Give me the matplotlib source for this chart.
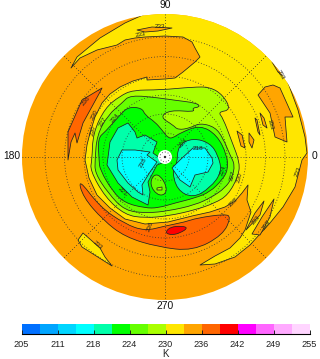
import matplotlib
matplotlib.use("Agg")
import matplotlib.pyplot as plt
from matplotlib.colors import ListedColormap, BoundaryNorm
from matplotlib.patches import Circle, Polygon, PathPatch
from matplotlib.path import Path
from matplotlib.cm import ScalarMappable

plt.rcParams['font.family'] = ['Liberation Sans', 'DejaVu Sans']

# colour levels (K)
levels = [205 + 3.125 * i for i in range(17)]
level_colors = ['#0070FF', '#00A5FF', '#00D5FF', '#00FFFF', '#00FFAA', '#00FF00', '#66FF00', '#AAFF00',
                '#FFE600', '#FFA500', '#FF6600', '#FF0000', '#FF00FF', '#FF66FF', '#FFAAFF', '#FFD5FF']
cbar_ticks = [205, 211.25, 217.5, 223.75, 230, 236.25, 242.5, 248.75, 255]
cbar_labels = ['205', '211', '218', '224', '230', '236', '242', '249', '255']

# map geometry in map units
center = (165, 157)
radius = 143
lat_circles = [120, 100.5, 81, 62, 43, 24]
meridian_ends = [(-1, -1), (1, -1), (-1, 1), (1, 1)]

# isotherm regions
yellow_main = [(71,68),(77,57),(100,38),(125,23),(145,14),(145,5),(200,5),(280,40),(270,58),(287,80),(298,110),
    (305,137),(307,153),(302,160),(295,187),(283,207),(270,223),(250,245),(235,257),(215,264),(200,265),(215,256),
    (230,248),(240,238),(245,230),(251,212),(247,200),(248,185),(242,193),(235,201),(225,207),(210,212),
    (192,216),(168,222),(145,224),(125,219),(110,208),(97,195),(89,178),(85,160),(87,145),(90,133),(95,117),
    (102,103),(110,94),(120,87),(133,81),(147,77),(147,80),(165,79),(175,78),(183,72),(195,62),(200,57),(195,48),
    (192,42),(183,37),(165,36),(145,37),(135,38),(125,40),(117,45),(97,50),(80,58)]
orange_sliver_top = [(137,30),(152,27),(172,28),(158,31),(145,32)]
orange_right = [(265,87),(258,95),(270,113),(275,137),(287,142),(285,117),(293,117),(280,88),(273,85)]
orange_small = [[(237,131),(242,135),(245,148),(241,146)], [(249,133),(254,140),(252,148),(249,142)],
    [(255,118),(257,120),(260,135),(258,132)], [(260,113),(264,118),(267,128),(263,125)],
    [(272,62),(280,70),(285,78),(278,72)]]
sliver_a = [(264,201),(260,215),(246,230),(255,213)]
sliver_b = [(274,199),(270,217),(260,235),(252,234),(262,217)]
yellow_lower_left = [(83,233),(78,240),(82,247),(112,266),(105,257),(100,248)]
redorange_left = [(102,88),(82,100),(68,132),(68,160),(71,142),(75,133),(77,143),(83,123),(100,92)]
redorange_low = [(78,178),(100,207),(125,224),(145,231),(165,226),(185,222),(197,218),(225,214),(231,217),(223,235),
    (193,251),(158,247),(125,237),(103,220),(83,197)]
red_blob = [(165,233),(170,227),(182,226),(188,228),(180,233),(172,235)]
lime_main = [(92,160),(93,133),(105,108),(120,96),(133,90),(160,90),(193,87),(210,87),(223,95),(231,110),
    (218,112),(223,118),(232,142),(240,163),(238,177),(228,195),(215,203),(195,210),(168,216),(145,218),
    (125,215),(105,197),(90,170)]
g66_main = [(95,160),(97,135),(108,115),(122,103),(130,95),(160,98),(173,100),(197,103),(200,107),(192,108),
    (195,112),(170,110),(160,117),(173,125),(178,130),(190,128),(200,123),(215,127),(223,138),(230,155),
    (235,165),(232,178),(225,188),(212,197),(195,205),(168,211),(148,213),(125,211),(108,193),(95,173)]
green_main = [(99,160),(98,138),(105,132),(120,115),(128,107),(142,108),(145,115),(155,122),(162,130),(168,138),
    (173,138),(180,133),(200,125),(217,135),(227,155),(228,170),(222,180),(210,192),(195,198),(175,203),
    (158,208),(145,208),(125,203),(113,192),(100,170)]
teal_left = [(107,165),(110,142),(118,128),(128,123),(135,132),(137,138),(145,135),(157,142),(153,153),(160,158),
    (162,163),(157,165),(148,182),(150,192),(148,205),(132,197),(118,183)]
teal_right = [(177,165),(178,145),(193,138),(210,143),(218,155),(222,172),(210,188),(193,198),(177,190),(172,170)]
cyan_left = [(117,160),(122,150),(135,150),(150,152),(147,155),(157,162),(150,172),(142,185),(143,195),
    (138,192),(128,183),(118,170)]
cyan_right = [(180,160),(193,148),(205,148),(212,158),(213,163),(208,172),(195,175),(190,187),(180,180),(172,168)]
g66_island = [(153,175),(160,175),(167,187),(165,195),(157,195),(150,185)]
lime_spot = [(157,188),(162,187),(162,190),(157,190)]

# (points, colour, drawn as a smooth curve)
regions = [(yellow_main, '#FFE600', False), (orange_sliver_top, '#FFA500', False), (orange_right, '#FFA500', False),
    (orange_small[0], '#FFA500', False), (orange_small[1], '#FFA500', False), (orange_small[2], '#FFA500', False),
    (orange_small[3], '#FFA500', False), (orange_small[4], '#FFA500', False), (sliver_a, '#FFA500', False),
    (sliver_b, '#FFA500', False), (yellow_lower_left, '#FFE600', False), (redorange_left, '#FF6600', False),
    (redorange_low, '#FF6600', True), (red_blob, '#FF0000', True), (lime_main, '#AAFF00', True),
    (g66_main, '#66FF00', True), (green_main, '#00FF00', True),
    (teal_left, '#00FFAA', False), (teal_right, '#00FFAA', True), (cyan_left, '#00FFFF', False),
    (cyan_right, '#00FFFF', False), (g66_island, '#66FF00', True), (lime_spot, '#AAFF00', False)]

contour_labels = [(86,101,'236',50),(95,115,'230',65),(93,131,'230',80),(103,122,'227',60),(115,118,'224',50),
    (141,35,'233',10),(160,26,'233',0),(281,75,'233',-60),(271,125,'233',-75),(183,143,'224',45),(198,148,'218',0),
    (223,170,'224',70),(233,176,'227',75),(240,177,'230',75),(233,202,'233',45),(256,220,'233',50),(266,225,'233',55),
    (298,172,'233',70),(98,245,'233',-40),(150,226,'236',70),(123,192,'221',-45),(143,163,'218',60)]
lon_labels = [(165,5,'90','center'),(165,306,'270','center'),(20,156,'180','right'),(312,156,'0','left')]


def curve_path(pts):
    codes, verts = [Path.MOVETO], [((pts[-1][0] + pts[0][0]) / 2, (pts[-1][1] + pts[0][1]) / 2)]
    n = len(pts)
    for i in range(n):
        a, b = pts[i], pts[(i + 1) % n]
        verts += [a, ((a[0] + b[0]) / 2, (a[1] + b[1]) / 2)]
        codes += [Path.CURVE3, Path.CURVE3]
    return Path(verts, codes)


fig = plt.figure(figsize=(3.2, 3.59), dpi=100)
ax = fig.add_axes([0, 0, 1, 1])
ax.set_xlim(0, 320)
ax.set_ylim(359, 0)
ax.axis('off')

disc = Circle(center, radius, fc='#FFA500', ec='none', zorder=1)
ax.add_patch(disc)
for i, (pts, col, smooth) in enumerate(regions):
    style = dict(fc=col, ec='#222222', lw=0.55, zorder=2 + i * 0.01, joinstyle='round')
    p = PathPatch(curve_path(pts), **style) if smooth else Polygon(pts, closed=True, **style)
    ax.add_patch(p)
    p.set_clip_path(disc)

dots = (0, (1, 2.4))
for r in lat_circles:
    ax.add_patch(Circle(center, r, fc='none', ec='#333333', lw=0.6, ls=dots, zorder=3))
d = radius * 0.7071
for sx, sy in meridian_ends:
    ax.plot([center[0], center[0] + sx * d], [center[1], center[1] + sy * d], color='#333333', lw=0.6, ls=dots, zorder=3)
ax.plot([center[0] - radius, center[0] + radius], [center[1], center[1]], color='#333333', lw=0.6, ls=dots, zorder=3)
ax.plot([center[0], center[0]], [center[1] - radius, center[1] + radius], color='#333333', lw=0.6, ls=dots, zorder=3)

ax.add_patch(Circle(center, 7, fc='white', ec='none', zorder=4))
ax.add_patch(Circle(center, 5, fc='none', ec='#333333', lw=0.6, ls=dots, zorder=5))
ax.add_patch(Circle(center, 1.2, fc='#222222', ec='none', zorder=5))

for x, y, s, rot in contour_labels:
    ax.text(x, y, s, fontsize=4.6, rotation=rot, ha='center', va='center', color='#222222', zorder=6)
for x, y, s, ha in lon_labels:
    ax.text(x, y, s, fontsize=7.4, ha=ha, va='center', color='#111111', zorder=6)

cax = fig.add_axes([21.5 / 320, 1 - 334 / 359, 288 / 320, 10 / 359])
sm = ScalarMappable(norm=BoundaryNorm(levels, len(level_colors)), cmap=ListedColormap(level_colors))
cb = fig.colorbar(sm, cax=cax, orientation='horizontal', ticks=cbar_ticks, spacing='uniform', drawedges=False)
cb.set_ticklabels(cbar_labels)
cb.minorticks_off()
cb.outline.set_visible(False)
cax.axhline(205, color='#222222', lw=1.0, clip_on=False)
cax.spines['bottom'].set_visible(True)
cax.tick_params(axis='x', direction='in', length=3, width=0.7, labelsize=6.6, pad=4, colors='#222222')
cb.set_label('K', fontsize=7, labelpad=0, color='#222222')

fig.savefig('out.png', dpi=100)
